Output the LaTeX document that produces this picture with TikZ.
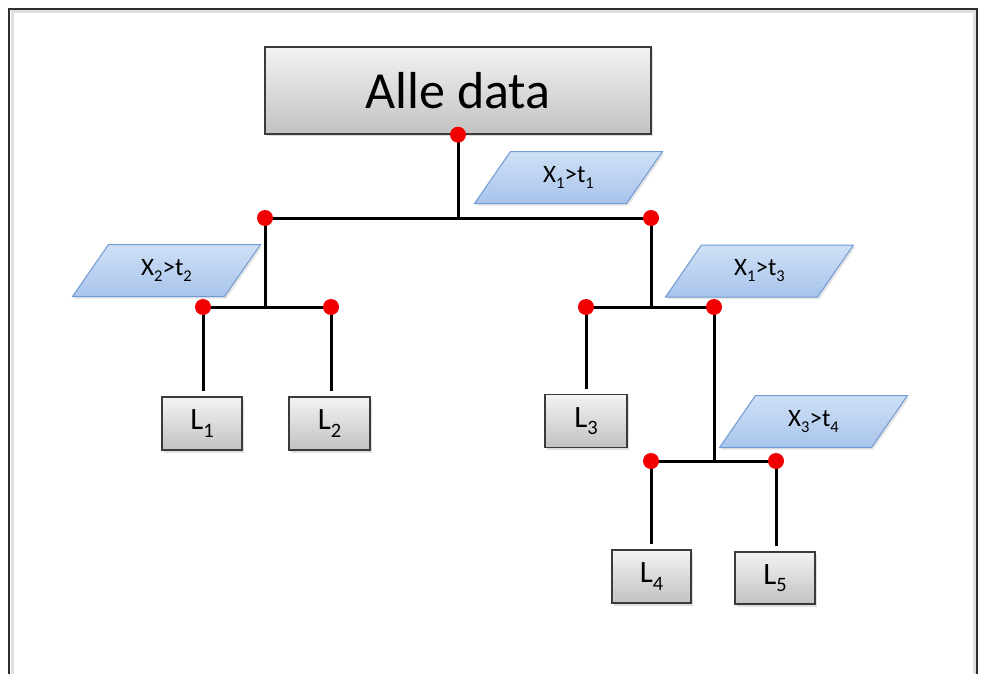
\documentclass[tikz,border=0pt]{standalone}
\usepackage{fontspec}
\usepackage{graphicx}
\setmainfont{Carlito}
\usetikzlibrary{shadows}

\definecolor{boxtop}{HTML}{F3F3F3}
\definecolor{boxbot}{HTML}{C2C2C2}
\definecolor{boxline}{HTML}{3A3A3A}
\definecolor{condtop}{HTML}{CFE0F6}
\definecolor{condbot}{HTML}{A8C4EB}
\definecolor{condline}{HTML}{6F9AD3}
\definecolor{dotred}{HTML}{F00000}
\definecolor{frameline}{HTML}{2E2E2E}

% lowered index in the current font
\newcommand\lowidx[1]{\raisebox{-0.24em}{\scalebox{0.66}{#1}}}

% condition parallelogram: name, centre x, centre y, text
\newcommand\condbox[4]{%
  \shadedraw[condshape] (#2,#3) ++(-58,-26) -- ++(152,0) -- ++(-36,52)
    -- ++(-152,0) -- cycle;
  \node[condtext] (#1) at (#2,#3) {#4};
}

\tikzset{
  greybox/.style={draw=boxline, line width=1.4pt, top color=boxtop,
    bottom color=boxbot, inner sep=0pt,
    drop shadow={opacity=0.25, shadow xshift=2pt, shadow yshift=-2.5pt}},
  titlebox/.style={greybox, minimum width=386pt, minimum height=87pt,
    font=\fontsize{52}{52}\selectfont},
  leafbox/.style={greybox, minimum width=80pt, minimum height=53pt,
    font=\fontsize{31}{31}\selectfont},
  condshape/.style={draw=condline, line width=1pt, top color=condtop,
    bottom color=condbot,
    drop shadow={opacity=0.2, shadow xshift=2pt, shadow yshift=-2pt}},
  condtext/.style={inner sep=0pt, font=\fontsize{25}{25}\selectfont},
  branch/.style={draw=black, line width=3pt},
  leafline/.style={branch, shorten >=5pt},
  splitdot/.style={circle, fill=dotred, inner sep=0pt, minimum size=16pt},
}

\begin{document}
\begin{tikzpicture}[x=1pt, y=-1pt]
  \useasboundingbox (0,0) rectangle (982,674);
  \fill[white] (0,0) rectangle (982,674);

  % outer frame, open at the bottom
  \draw[black!12, line width=3pt] (12,674) -- (12,12) -- (974,12) -- (974,674);
  \draw[frameline, line width=2pt] (9,674) -- (9,9) -- (977,9) -- (977,674);

  % root and leaves
  \node[titlebox] (root) at (458,90.5) {Alle data};
  \node[leafbox] (L1) at (202,423.5) {L\lowidx{1}};
  \node[leafbox, minimum width=81pt] (L2) at (329.5,423.5) {L\lowidx{2}};
  \node[leafbox, minimum width=82pt] (L3) at (586,421) {L\lowidx{3}};
  \node[leafbox, minimum width=79pt] (L4) at (651.5,576.5) {L\lowidx{4}};
  \node[leafbox, minimum height=52pt] (L5) at (775,578) {L\lowidx{5}};

  % split conditions
  \condbox{c1}{568.5}{177.5}{X\lowidx{1}>t\lowidx{1}}
  \condbox{c2}{166.5}{270.5}{X\lowidx{2}>t\lowidx{2}}
  \condbox{c3}{759.5}{271}{X\lowidx{1}>t\lowidx{3}}
  \condbox{c4}{813.5}{421.5}{X\lowidx{3}>t\lowidx{4}}

  % split points
  \coordinate (s0) at (root.south);
  \coordinate (sL) at (265,218);
  \coordinate (sR) at (651,218);
  \coordinate (sLL) at (203,307);
  \coordinate (sLR) at (331,307);
  \coordinate (sRL) at (586,307);
  \coordinate (sRR) at (714,307);
  \coordinate (sRRL) at (651,461);
  \coordinate (sRRR) at (776,461);

  % tree branches
  \draw[branch] (s0) -- (s0 |- sL);
  \draw[branch] (sL) -- (sR);
  \draw[branch] (sL) -- (sL |- sLL);
  \draw[branch] (sLL) -- (sLR);
  \draw[branch] (sR) -- (sR |- sRL);
  \draw[branch] (sRL) -- (sRR);
  \draw[branch] (sRR) -- (sRR |- sRRL);
  \draw[branch] (sRRL) -- (sRRR);

  \draw[leafline] (sLL) -- (sLL |- L1.north);
  \draw[leafline] (sLR) -- (sLR |- L2.north);
  \draw[leafline] (sRL) -- (sRL |- L3.north);
  \draw[leafline] (sRRL) -- (sRRL |- L4.north);
  \draw[leafline] (sRRR) -- (sRRR |- L5.north);

  % red split markers
  \foreach \p in {s0,sL,sR,sLL,sLR,sRL,sRR,sRRL,sRRR}
    \node[splitdot] (dot-\p) at (\p) {};
\end{tikzpicture}
\end{document}
